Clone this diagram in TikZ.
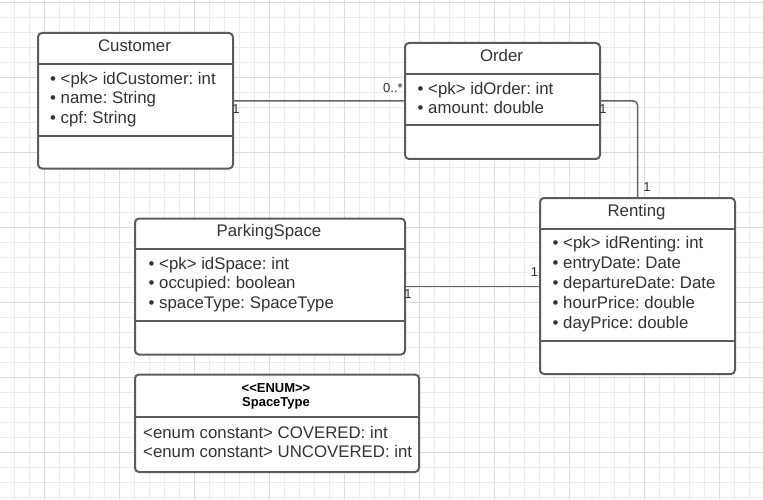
\documentclass[tikz,border=0pt]{standalone}
\usepackage{fontspec}
\setmainfont{Liberation Sans}
\usepackage{tikz}
\definecolor{boxgray}{RGB}{92,92,92}
\definecolor{linegray}{RGB}{100,100,100}
\definecolor{textgray}{RGB}{51,51,51}
\definecolor{gridminor}{RGB}{235,235,235}
\definecolor{gridmajor}{RGB}{220,220,220}
\frenchspacing

\begin{document}
\begin{tikzpicture}[x=1pt,y=-1pt,
    classbox/.style={draw=boxgray,line width=2pt,rounded corners=4pt,fill=white,
        inner sep=0pt,anchor=north west},
    divider/.style={draw=boxgray,line width=2pt},
    title/.style={font=\fontsize{16.8}{20}\selectfont,text=textgray,anchor=base,inner sep=0pt},
    attr/.style={font=\fontsize{16.8}{20}\selectfont,text=textgray,anchor=base west,inner sep=0pt},
    enumtitle/.style={font=\fontsize{13}{15}\selectfont\bfseries,anchor=base,inner sep=0pt},
    mult/.style={font=\fontsize{13}{15}\selectfont,text=textgray,inner sep=0pt},
    assoc/.style={draw=linegray,line width=1.5pt}
]
    % background grid
    \useasboundingbox (0,0) rectangle (763,500);
    \fill[white] (0,0) rectangle (763,500);
    \foreach \i in {0,...,50}
        \draw[gridminor,line width=1pt] (14.3+15*\i,0) -- ++(0,500);
    \foreach \j in {0,...,33}
        \draw[gridminor,line width=1pt] (0,2.3+15*\j) -- ++(763,0);
    \foreach \i in {0,...,10}
        \draw[gridmajor,line width=1pt] (44.3+75*\i,0) -- ++(0,500);
    \foreach \j in {0,...,6}
        \draw[gridmajor,line width=1pt] (0,2.3+75*\j) -- ++(763,0);

    % Customer
    \node[classbox,minimum width=195pt,minimum height=135.5pt] (customer) at (37,32) {};
    \draw[divider] (37,64) -- (232,64);
    \draw[divider] (37,135.7) -- (232,135.7);
    \node[title] (customer-title) at (134.5,51.7) {Customer};
    \node[attr] (customer-1) at (50,84.5) {• <pk> idCustomer: int};
    \node[attr] (customer-2) at (50,104) {• name: String};
    \node[attr] (customer-3) at (50,123.5) {• cpf: String};

    % Order
    \node[classbox,minimum width=195pt,minimum height=116pt] (order) at (404,42) {};
    \draw[divider] (404,74) -- (599,74);
    \draw[divider] (404,125) -- (599,125);
    \node[title] (order-title) at (501.5,61.7) {Order};
    \node[attr] (order-1) at (417.5,94.3) {• <pk> idOrder: int};
    \node[attr] (order-2) at (417.5,113.7) {• amount: double};

    % Renting
    \node[classbox,minimum width=195pt,minimum height=176pt] (renting) at (539,197) {};
    \draw[divider] (539,229) -- (734,229);
    \draw[divider] (539,341) -- (734,341);
    \node[title] (renting-title) at (636.5,216.7) {Renting};
    \foreach \txt [count=\k] in {<pk> idRenting: int,entryDate: Date,departureDate: Date,
            hourPrice: double,dayPrice: double}
        \node[attr] (renting-\k) at (552.5,228.7+20*\k) {• \txt};

    % ParkingSpace
    \node[classbox,minimum width=270pt,minimum height=136pt] (parking) at (134,217.5) {};
    \draw[divider] (134,249) -- (404,249);
    \draw[divider] (134,321) -- (404,321);
    \node[title] (parking-title) at (269,236.7) {ParkingSpace};
    \node[attr] (parking-1) at (148.5,269.3) {• <pk> idSpace: int};
    \node[attr] (parking-2) at (148.5,288.7) {• occupied: boolean};
    \node[attr] (parking-3) at (148.5,308.7) {• spaceType: SpaceType};

    % SpaceType enum
    \node[classbox,minimum width=284pt,minimum height=97.5pt] (spacetype) at (134,373.5) {};
    \draw[divider] (134,417.3) -- (418,417.3);
    \node[enumtitle] (spacetype-stereo) at (276,392.3) {{<}{<}ENUM{>}{>}};
    \node[enumtitle] (spacetype-title) at (276,406.4) {SpaceType};
    \node[attr] (spacetype-1) at (143,438.3) {<enum constant> COVERED: int};
    \node[attr] (spacetype-2) at (143,457.7) {<enum constant> UNCOVERED: int};

    % associations
    \draw[assoc] (customer.east) -- (order.west);
    \draw[assoc,rounded corners=4pt] (order.east) -- (order.east -| renting.north) -- (renting.north);
    \draw[assoc] (parking.east) -- (parking.east -| renting.west);

    % multiplicities
    \node[mult] (m-cust) at (236,109) {1};
    \node[mult] (m-ord-l) at (393,88) {0..*};
    \node[mult] (m-ord-r) at (603,109) {1};
    \node[mult] (m-rent-t) at (647,187) {1};
    \node[mult] (m-park) at (408,294) {1};
    \node[mult] (m-rent-l) at (534.5,272.5) {1};
\end{tikzpicture}
\end{document}
